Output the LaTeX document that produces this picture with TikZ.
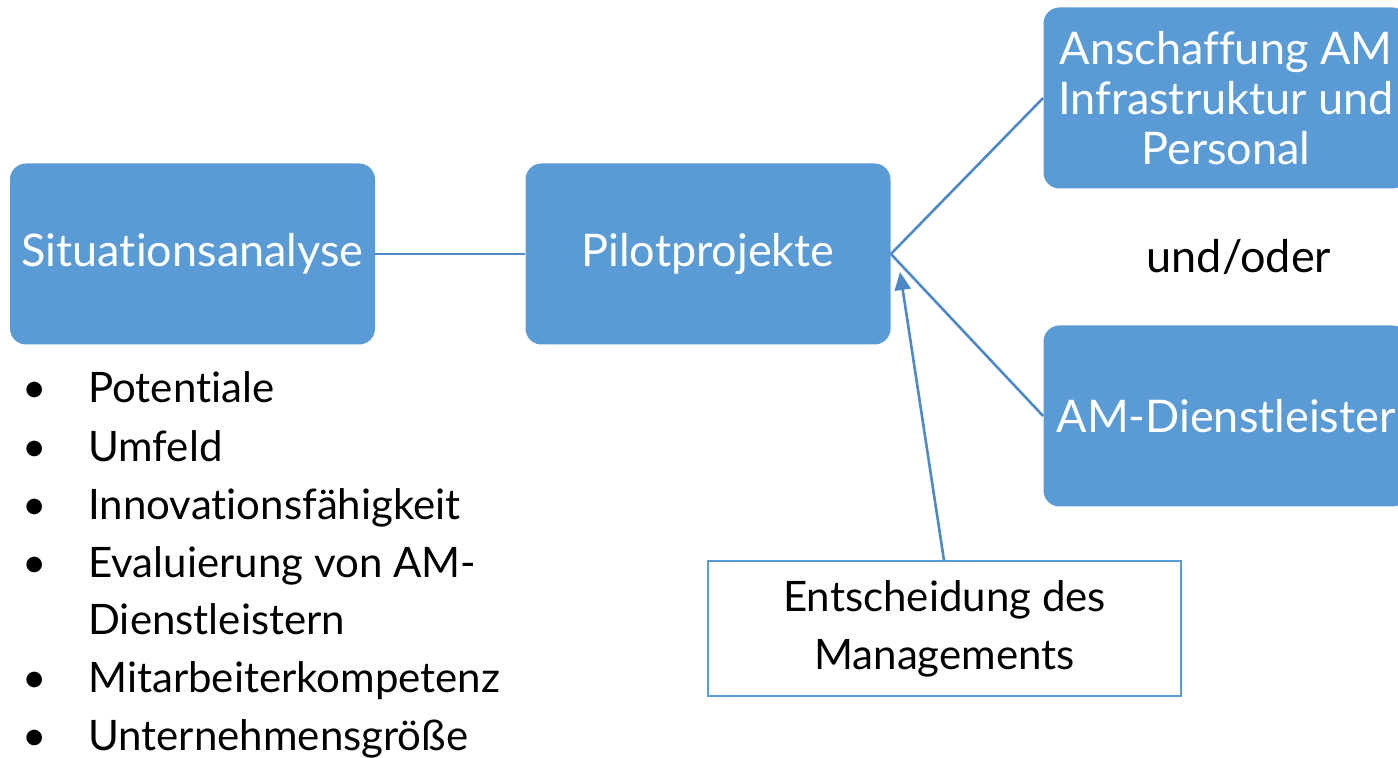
\documentclass[tikz,border=0pt]{standalone}
\usepackage{fontspec}
\setmainfont{Lato}[Ligatures=NoCommon]
\usepackage{tikz}
\usetikzlibrary{arrows.meta}
\definecolor{boxblue}{HTML}{5B9BD5}
\definecolor{lineblue}{HTML}{4F88C6}
\tikzset{
  bluebox/.style={fill=boxblue, rounded corners=8pt, text=white,
    minimum width=182.5pt, minimum height=90.5pt, align=center,
    font=\fontsize{22.5}{25}\selectfont},
  whitebox/.style={draw=boxblue, line width=1pt, fill=white,
    minimum width=236.5pt, minimum height=67.5pt, align=center,
    font=\fontsize{21}{29}\selectfont},
  link/.style={lineblue, line width=1.3pt},
  listtext/.style={anchor=base west, inner sep=0pt,
    font=\fontsize{21}{29}\selectfont}
}

\begin{document}
\begin{tikzpicture}[x=0.5pt, y=-0.5pt]

  \useasboundingbox (0,0) rectangle (1398,758);

  % Main boxes
  \node[bluebox] (situation) at (192.5,254) {Situationsanalyse};
  \node[bluebox] (pilot) at (708,254) {Pilotprojekte};
  \node[bluebox] (infra) at (1226,98) {Anschaffung AM\\Infrastruktur und\\Personal};
  \node[bluebox] (dienst) at (1226,416) {AM-Dienstleister};

  % Decision box
  \node[whitebox] (mgmt) at (944.5,629) {Entscheidung des\\Managements};
  \coordinate (tip) at (900,272);

  % und/oder
  \node[font=\fontsize{22.5}{25}\selectfont] (undoder) at (1239,257) {und/oder};

  % Connectors
  \draw[link] (situation.east) -- (pilot.west);
  \draw[link] (pilot.east) -- (infra.west);
  \draw[link] (pilot.east) -- (dienst.west);
  \draw[link, -{Triangle[length=9pt, width=8pt]}] (mgmt.north -| 944,0) -- (tip);

  % Bullet list
  \foreach \i/\y in {1/388, 2/447, 3/505, 4/563, 5/678, 6/735}
    \node[listtext, anchor=base] (dot\i) at (35,\y+15) {\textbullet};
  \foreach \i/\y/\txt in {1/388/Potentiale, 2/447/Umfeld,
      3/505/Innovationsfähigkeit, 4/563/Evaluierung von AM-,
      5/620/Dienstleistern, 6/678/Mitarbeiterkompetenz,
      7/735/Unternehmensgröße}
    \node[listtext] (item\i) at (88,\y+15) {\txt};

\end{tikzpicture}
\end{document}
